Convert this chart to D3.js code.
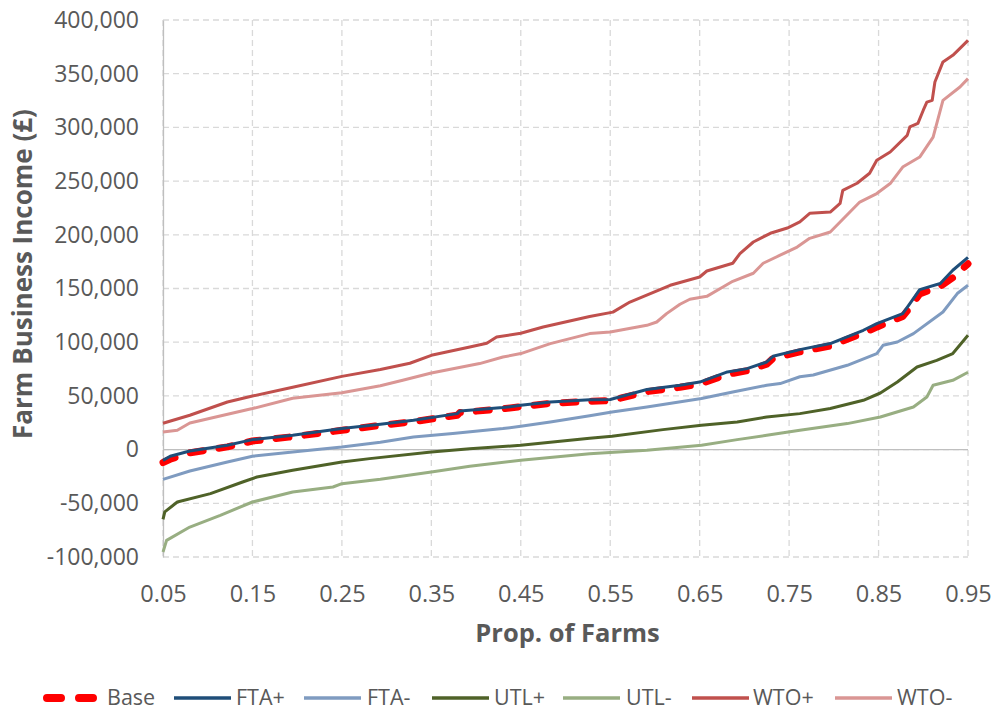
<!DOCTYPE html>
<html>
<head>
<meta charset="utf-8">
<script src="https://cdn.jsdelivr.net/npm/d3@7"></script>
<style>
  html, body { margin: 0; padding: 0; background: #fff; }
  svg text { font-family: "Open Sans", "Noto Sans", sans-serif; fill: #595959; }
</style>
</head>
<body>
<svg id="chart" width="996" height="715"></svg>
<script>
// Proportion of farms (x) against farm business income in £ (y), one [p, value] list per scenario
const xTicks = [0.05, 0.15, 0.25, 0.35, 0.45, 0.55, 0.65, 0.75, 0.85, 0.95];
const yTicks = [-100000, -50000, 0, 50000, 100000, 150000, 200000, 250000, 300000, 350000, 400000];
const seriesNames = ["Base", "FTA+", "FTA-", "UTL+", "UTL-", "WTO+", "WTO-"];
const seriesColors = ["#FF0000", "#1F4E79", "#7F9BC0", "#4F6228", "#98AE82", "#C0504D", "#DA9694"];

const base = [[0.05,-12000],[0.058,-9000],[0.08,-3000],[0.122,2500],[0.15,8000],[0.195,12000],[0.25,18000],[0.293,22500],[0.33,26000],[0.379,32000],[0.382,34500],[0.43,38000],[0.45,40000],[0.483,43000],[0.527,45000],[0.55,45500],[0.591,54000],[0.628,58000],[0.65,61000],[0.681,70000],[0.703,73500],[0.725,79500],[0.732,85000],[0.762,91000],[0.796,96500],[0.833,108500],[0.848,114000],[0.877,124000],[0.885,132000],[0.896,145000],[0.919,152000],[0.933,160000],[0.95,173000]];

const ftaPlus = [[0.05,-10000],[0.058,-6200],[0.08,-1300],[0.122,4000],[0.15,9300],[0.195,13300],[0.25,19600],[0.293,23600],[0.33,27300],[0.379,33500],[0.382,35900],[0.43,39100],[0.45,41200],[0.483,44300],[0.527,46400],[0.55,46600],[0.591,55900],[0.628,59900],[0.65,62900],[0.681,72300],[0.703,75400],[0.725,81600],[0.732,86900],[0.762,93100],[0.796,98700],[0.833,111100],[0.848,117300],[0.877,126600],[0.885,135900],[0.896,149000],[0.919,154600],[0.933,167000],[0.95,179000]];

const ftaMinus = [[0.05,-27700],[0.08,-19900],[0.122,-11500],[0.15,-6200],[0.195,-2200],[0.25,2400],[0.293,6800],[0.33,11700],[0.374,14900],[0.43,19600],[0.45,21700],[0.483,25700],[0.527,31500],[0.552,35000],[0.591,39700],[0.652,47500],[0.687,53600],[0.725,59900],[0.74,61500],[0.762,67800],[0.777,69500],[0.815,78500],[0.848,89400],[0.855,97100],[0.871,100200],[0.889,108000],[0.922,128100],[0.938,145300],[0.95,153000]];

const utlPlus = [[0.05,-65000],[0.052,-58000],[0.066,-48800],[0.103,-41000],[0.139,-30200],[0.155,-25500],[0.195,-19300],[0.25,-11500],[0.281,-8400],[0.35,-2200],[0.393,900],[0.45,4000],[0.527,10500],[0.552,12400],[0.609,18600],[0.652,22600],[0.692,25700],[0.725,30400],[0.762,33500],[0.796,38200],[0.833,45900],[0.852,52700],[0.871,62900],[0.893,76900],[0.915,83100],[0.933,89400],[0.95,106400]];

const utlMinus = [[0.05,-95300],[0.054,-84500],[0.08,-72100],[0.114,-61200],[0.15,-48800],[0.195,-39500],[0.24,-34800],[0.25,-31700],[0.293,-27700],[0.35,-20900],[0.393,-15500],[0.45,-10000],[0.527,-3900],[0.591,-700],[0.652,4000],[0.692,9300],[0.725,13300],[0.762,18000],[0.815,24200],[0.852,30400],[0.889,39700],[0.904,49000],[0.911,59900],[0.933,64500],[0.95,72000]];

const wtoPlus = [[0.05,24500],[0.08,32000],[0.122,44300],[0.15,49900],[0.195,58000],[0.25,68200],[0.293,74500],[0.326,80400],[0.35,87800],[0.393,95500],[0.412,99000],[0.423,104800],[0.45,108300],[0.475,114200],[0.527,124000],[0.553,128000],[0.572,137400],[0.617,153000],[0.65,160700],[0.658,166300],[0.687,173500],[0.695,182500],[0.71,193300],[0.729,201400],[0.748,206300],[0.762,212000],[0.773,220000],[0.796,221200],[0.807,229300],[0.81,241400],[0.826,248000],[0.84,257300],[0.848,269400],[0.863,277100],[0.882,292600],[0.885,300400],[0.894,303800],[0.9,316000],[0.904,323600],[0.91,325200],[0.913,342300],[0.922,361000],[0.933,367100],[0.941,373600],[0.95,381000]];

const wtoMinus = [[0.05,16400],[0.066,18000],[0.08,24800],[0.15,38200],[0.195,47800],[0.25,52900],[0.293,59400],[0.318,64500],[0.35,71300],[0.404,80100],[0.43,86200],[0.45,89400],[0.483,98700],[0.527,108000],[0.55,109500],[0.591,115700],[0.602,118800],[0.613,126600],[0.628,135300],[0.639,140000],[0.658,142700],[0.676,151400],[0.687,156700],[0.71,164200],[0.721,173500],[0.74,181000],[0.759,188600],[0.773,196700],[0.796,202600],[0.818,221200],[0.829,230500],[0.848,238400],[0.863,247700],[0.877,263100],[0.896,272400],[0.911,291000],[0.922,325200],[0.941,337600],[0.95,345400]];

const seriesData = [base, ftaPlus, ftaMinus, utlPlus, utlMinus, wtoPlus, wtoMinus];

const svg = d3.select("#chart");
const plot = { left: 163, right: 968, top: 20, bottom: 557 };

const x = d3.scaleLinear().domain([0.05, 0.95]).range([plot.left, plot.right]);
const y = d3.scaleLinear().domain([-100000, 400000]).range([plot.bottom, plot.top]);

// Dashed grid
const grid = svg.append("g");
grid.selectAll("line.h").data(yTicks).join("line")
  .attr("x1", plot.left).attr("x2", plot.right)
  .attr("y1", d => y(d)).attr("y2", d => y(d))
  .attr("stroke", "#D9D9D9").attr("stroke-width", 1.3).attr("stroke-dasharray", "6,4");
grid.selectAll("line.v").data(xTicks).join("line")
  .attr("x1", d => x(d)).attr("x2", d => x(d))
  .attr("y1", plot.top).attr("y2", plot.bottom)
  .attr("stroke", "#D9D9D9").attr("stroke-width", 1.3).attr("stroke-dasharray", "6,4");

// Axes: value axis on the left, category axis crossing at zero
const thousands = d3.format(",");
const yAxis = d3.axisLeft(y).tickValues(yTicks)
  .tickFormat(d => thousands(d).replace("\u2212", "-"))
  .tickSize(0).tickPadding(24);
const gy = svg.append("g").attr("transform", `translate(${plot.left},0)`).call(yAxis);
gy.select(".domain").attr("stroke", "#BFBFBF").attr("stroke-width", 1.3);
gy.selectAll("text").attr("font-size", 23).style("fill", "#595959")
  .attr("font-family", "'Open Sans', sans-serif");

svg.append("line")
  .attr("x1", plot.left).attr("x2", plot.right)
  .attr("y1", y(0)).attr("y2", y(0))
  .attr("stroke", "#BFBFBF").attr("stroke-width", 1.3);

const xAxis = d3.axisBottom(x).tickValues(xTicks).tickFormat(d3.format(".2f")).tickSize(0).tickPadding(28);
const gx = svg.append("g").attr("transform", `translate(0,${plot.bottom})`).call(xAxis);
gx.select(".domain").remove();
gx.selectAll("text").attr("font-size", 23.5).style("fill", "#595959")
  .attr("font-family", "'Open Sans', sans-serif");

// Axis titles
svg.append("text")
  .attr("x", (plot.left + plot.right) / 2 + 2).attr("y", 642)
  .attr("text-anchor", "middle").attr("font-size", 25.5).attr("font-weight", "bold")
  .text("Prop. of Farms");
svg.append("text")
  .attr("transform", "translate(32,274) rotate(-90)")
  .attr("text-anchor", "middle").attr("font-size", 26).attr("font-weight", "bold")
  .text("Farm Business Income (£)");

// Series lines
const line = d3.line().x(d => x(d[0])).y(d => y(d[1]));
const lines = svg.append("g");
seriesData.forEach((data, i) => {
  const path = lines.append("path")
    .datum(data)
    .attr("d", line)
    .attr("fill", "none")
    .attr("stroke", seriesColors[i])
    .attr("stroke-linejoin", "round");
  if (i === 0) {
    path.attr("stroke-width", 7).attr("stroke-dasharray", "13,16").attr("stroke-linecap", "round");
  } else {
    path.attr("stroke-width", 3);
  }
});

// Legend
const legendItems = [
  { x: 47, tx: 107 }, { x: 174, tx: 236 }, { x: 304, tx: 367 }, { x: 432, tx: 494 },
  { x: 563, tx: 626 }, { x: 692, tx: 753 }, { x: 835, tx: 897 }
];
const legend = svg.append("g");
legendItems.forEach((it, i) => {
  const ly = 698;
  if (i === 0) {
    legend.append("line")
      .attr("x1", it.x).attr("x2", it.x + 47).attr("y1", ly).attr("y2", ly)
      .attr("stroke", seriesColors[0]).attr("stroke-width", 8)
      .attr("stroke-linecap", "round").attr("stroke-dasharray", "14,18");
  } else {
    legend.append("line")
      .attr("x1", it.x).attr("x2", it.x + 57).attr("y1", ly).attr("y2", ly)
      .attr("stroke", seriesColors[i]).attr("stroke-width", 3.5);
  }
  legend.append("text")
    .attr("x", it.tx).attr("y", ly + 7)
    .attr("font-size", 21.5)
    .text(seriesNames[i]);
});
</script>
</body>
</html>
